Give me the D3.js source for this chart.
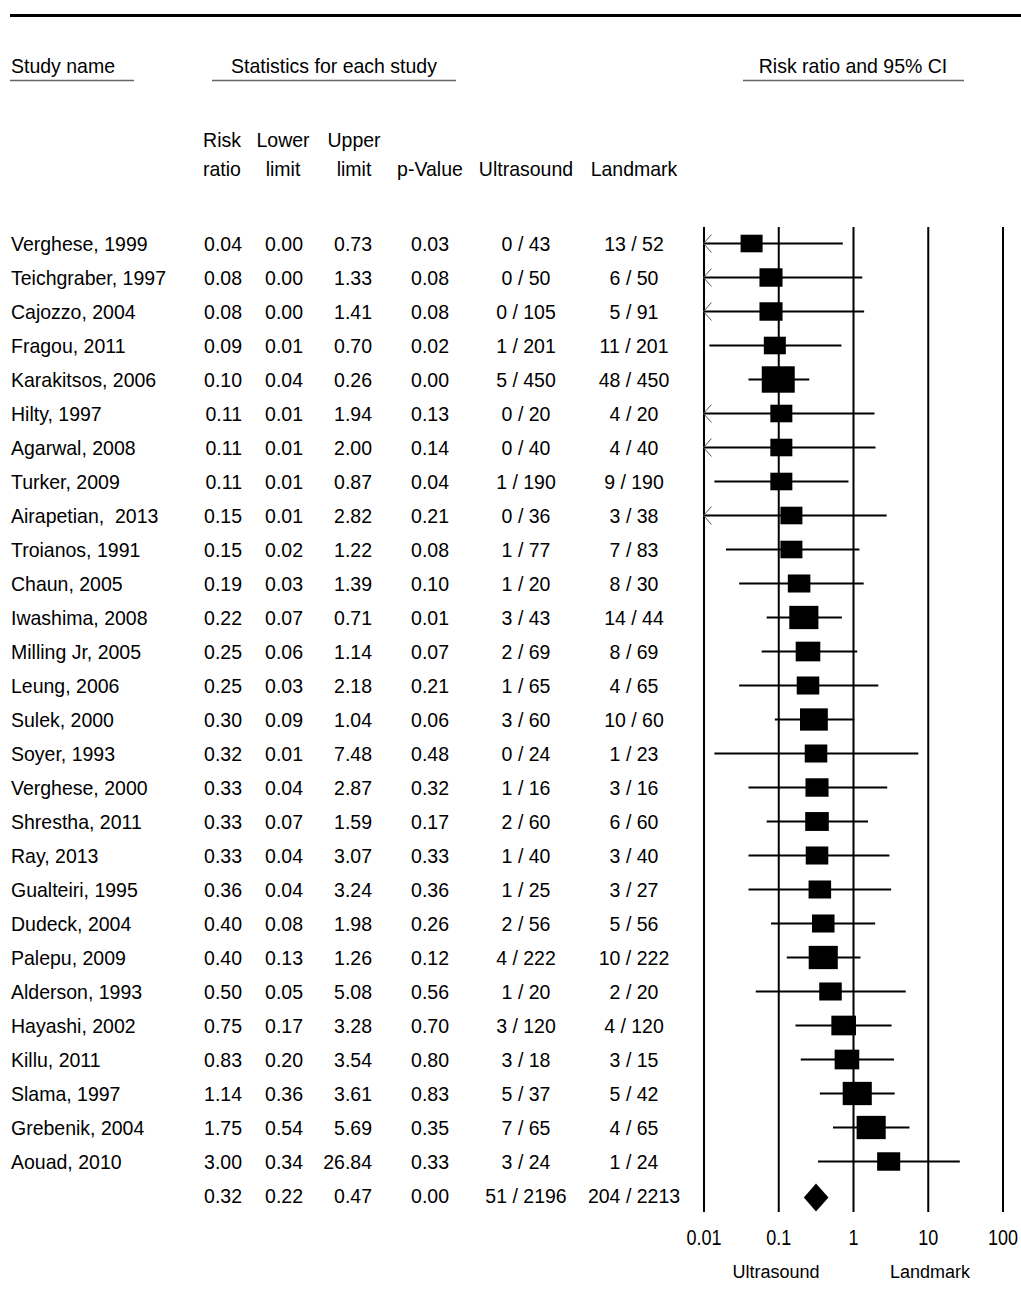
<!DOCTYPE html>
<html>
<head>
<meta charset="utf-8">
<script src="https://cdn.jsdelivr.net/npm/d3@7.9.0/dist/d3.min.js"></script>
<style>
  body { margin: 0; background: #fff; }
  svg text { font-family: "Liberation Sans", Arial, sans-serif; fill: #000; white-space: pre; }
</style>
</head>
<body>
<div id="chart"></div>
<script>
const studies = ["Verghese, 1999", "Teichgraber, 1997", "Cajozzo, 2004", "Fragou, 2011", "Karakitsos, 2006",
  "Hilty, 1997", "Agarwal, 2008", "Turker, 2009", "Airapetian,  2013", "Troianos, 1991", "Chaun, 2005",
  "Iwashima, 2008", "Milling Jr, 2005", "Leung, 2006", "Sulek, 2000", "Soyer, 1993", "Verghese, 2000",
  "Shrestha, 2011", "Ray, 2013", "Gualteiri, 1995", "Dudeck, 2004", "Palepu, 2009", "Alderson, 1993",
  "Hayashi, 2002", "Killu, 2011", "Slama, 1997", "Grebenik, 2004", "Aouad, 2010"];
const riskRatio = [0.044, 0.08, 0.08, 0.09, 0.10, 0.11, 0.11, 0.11, 0.15, 0.15, 0.19, 0.22, 0.25, 0.25, 0.30,
  0.32, 0.33, 0.33, 0.33, 0.36, 0.40, 0.40, 0.50, 0.75, 0.83, 1.14, 1.75, 3.00];
// lower limits below 0.01 are off the left edge of the plot (arrow)
const lowerLimit = [0.003, 0.004, 0.004, 0.012, 0.04, 0.008, 0.008, 0.014, 0.008, 0.02, 0.03, 0.07, 0.06, 0.03,
  0.09, 0.014, 0.04, 0.07, 0.04, 0.04, 0.08, 0.13, 0.05, 0.17, 0.20, 0.36, 0.54, 0.34];
const upperLimit = [0.73, 1.33, 1.41, 0.70, 0.26, 1.94, 2.00, 0.87, 2.82, 1.22, 1.39, 0.71, 1.14, 2.18, 1.04,
  7.48, 2.87, 1.59, 3.07, 3.24, 1.98, 1.26, 5.08, 3.28, 3.54, 3.61, 5.69, 26.84];
const pValue = [0.03, 0.08, 0.08, 0.02, 0.00, 0.13, 0.14, 0.04, 0.21, 0.08, 0.10, 0.01, 0.07, 0.21, 0.06,
  0.48, 0.32, 0.17, 0.33, 0.36, 0.26, 0.12, 0.56, 0.70, 0.80, 0.83, 0.35, 0.33];
const usEvents = [0, 0, 0, 1, 5, 0, 0, 1, 0, 1, 1, 3, 2, 1, 3, 0, 1, 2, 1, 1, 2, 4, 1, 3, 3, 5, 7, 3];
const usTotal = [43, 50, 105, 201, 450, 20, 40, 190, 36, 77, 20, 43, 69, 65, 60, 24, 16, 60, 40, 25, 56, 222,
  20, 120, 18, 37, 65, 24];
const lmEvents = [13, 6, 5, 11, 48, 4, 4, 9, 3, 7, 8, 14, 8, 4, 10, 1, 3, 6, 3, 3, 5, 10, 2, 4, 3, 5, 4, 1];
const lmTotal = [52, 50, 91, 201, 450, 20, 40, 190, 38, 83, 30, 44, 69, 65, 60, 23, 16, 60, 40, 27, 56, 222,
  20, 120, 15, 42, 65, 24];
// relative study weights (box area)
const weights = [2.0, 2.2, 2.2, 2.0, 4.5, 2.0, 2.0, 2.0, 2.0, 2.0, 2.1, 3.5, 2.5, 2.1, 3.2, 2.1, 2.2, 2.3,
  2.1, 2.1, 2.1, 3.5, 2.1, 2.5, 2.5, 3.5, 3.5, 2.2];
const pooled = { rr: 0.32, lower: 0.22, upper: 0.47, p: 0.00, usEvents: 51, usTotal: 2196, lmEvents: 204, lmTotal: 2213 };
const axisTicks = [0.01, 0.1, 1, 10, 100];

const width = 1021, height = 1307;
const svg = d3.select('#chart').append('svg')
  .attr('width', width).attr('height', height);

const f2 = d3.format('.2f');
const plotTop = 227, plotBottom = 1212;

const x = d3.scaleLog().domain([0.01, 100]).range([703.5, 1002.5]);
const y = d3.scalePoint().domain(d3.range(studies.length + 1)).range([243.5, 1195.5]);
const boxW = d3.scaleSqrt().domain([0, 4.5]).range([0, 33]);

function txt(x0, y0, s, anchor = 'start', size = 19.5, sy = 1.07) {
  return svg.append('text')
    .attr('transform', `translate(${x0},${y0}) scale(1,${sy})`)
    .attr('text-anchor', anchor)
    .attr('font-size', size)
    .text(s);
}

// top rule
svg.append('line').attr('x1', 10).attr('x2', width).attr('y1', 15.5).attr('y2', 15.5)
  .attr('stroke', '#000').attr('stroke-width', 3);

// section headers
txt(11, 73, 'Study name');
txt(334, 73, 'Statistics for each study', 'middle');
txt(853, 73, 'Risk ratio and 95% CI', 'middle');
[[10, 134], [212, 456], [743, 964]].forEach(([a, b]) => {
  svg.append('line').attr('x1', a).attr('x2', b).attr('y1', 80.5).attr('y2', 80.5)
    .attr('stroke', '#666').attr('stroke-width', 1.5);
});

// column headers
const cols = [
  { c: 222, top: 'Risk', bot: 'ratio' },
  { c: 283, top: 'Lower', bot: 'limit' },
  { c: 354, top: 'Upper', bot: 'limit' },
  { c: 430, top: '', bot: 'p-Value' },
  { c: 526, top: '', bot: 'Ultrasound' },
  { c: 634, top: '', bot: 'Landmark' },
];
cols.forEach(d => {
  if (d.top) txt(d.c, 147, d.top, 'middle');
  txt(d.c, 176, d.bot, 'middle');
});

// table rows
function row(i, name, rr, lo, hi, p, ue, ut, le, lt) {
  const by = y(i) + 7.5;
  if (name) txt(11, by, name);
  txt(242, by, f2(rr), 'end');
  txt(303, by, f2(lo), 'end');
  txt(372, by, f2(hi), 'end');
  txt(449, by, f2(p), 'end');
  txt(526, by, `${ue} / ${ut}`, 'middle');
  txt(634, by, `${le} / ${lt}`, 'middle');
}
studies.forEach((s, i) => row(i, s, riskRatio[i], lowerLimit[i], upperLimit[i], pValue[i],
  usEvents[i], usTotal[i], lmEvents[i], lmTotal[i]));
row(studies.length, '', pooled.rr, pooled.lower, pooled.upper, pooled.p,
  pooled.usEvents, pooled.usTotal, pooled.lmEvents, pooled.lmTotal);

// vertical reference lines + tick labels
const axis = svg.append('g')
  .attr('transform', `translate(0,${plotBottom})`)
  .call(d3.axisBottom(x).tickValues(axisTicks).tickFormat(d3.format('~g'))
    .tickSize(-(plotBottom - plotTop)).tickSizeOuter(0));
axis.select('.domain').remove();
axis.selectAll('.tick line').attr('stroke', '#000').attr('stroke-width', 2);
axis.selectAll('.tick text')
  .attr('y', null).attr('dy', null)
  .attr('transform', 'translate(0,33) scale(1,1.2)')
  .attr('font-size', 18)
  .attr('font-family', '"Liberation Sans", Arial, sans-serif')
  .attr('fill', '#000');

// study markers
const marks = svg.append('g');
studies.forEach((s, i) => {
  const cy = y(i);
  const lo = Math.max(lowerLimit[i], 0.01);
  const hi = Math.min(upperLimit[i], 100);
  marks.append('line')
    .attr('x1', x(lo)).attr('x2', x(hi)).attr('y1', cy).attr('y2', cy)
    .attr('stroke', '#000').attr('stroke-width', 2);
  if (lowerLimit[i] < 0.01) {
    const ax = x(0.01);
    marks.append('path')
      .attr('d', `M${ax + 8},${cy - 9}L${ax},${cy}L${ax + 8},${cy + 9}`)
      .attr('fill', 'none').attr('stroke', '#555').attr('stroke-width', 1);
  }
  const w = boxW(weights[i]);
  const h = w * 0.8;
  marks.append('rect')
    .attr('x', x(riskRatio[i]) - w / 2).attr('y', cy - h / 2)
    .attr('width', w).attr('height', h).attr('fill', '#000');
});

// pooled diamond
const py = y(studies.length) + 2;
marks.append('path')
  .attr('d', `M${x(pooled.lower)},${py}L${x(pooled.rr)},${py - 14}L${x(pooled.upper)},${py}L${x(pooled.rr)},${py + 14}Z`)
  .attr('fill', '#000');

// favours labels
txt(776, 1278, 'Ultrasound', 'middle', 18, 1);
txt(930, 1278, 'Landmark', 'middle', 18, 1);
</script>
</body>
</html>
